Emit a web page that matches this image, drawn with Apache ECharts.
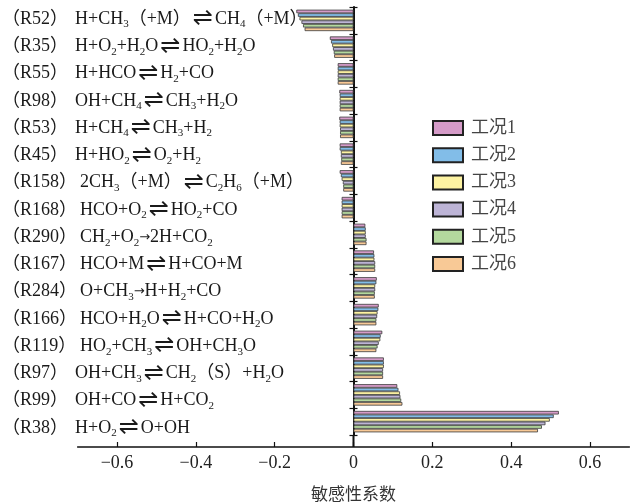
<!DOCTYPE html>
<html>
<head>
<meta charset="utf-8">
<script src="https://cdn.jsdelivr.net/npm/echarts@6/dist/echarts.min.js"></script>
<style>
  html, body { margin: 0; padding: 0; background: #fff; }
  #chart { width: 635px; height: 504px; }
</style>
</head>
<body>
<div id="chart"></div>
<script>
// Reaction identifiers, top to bottom
const reactionIds = ['R52', 'R35', 'R55', 'R98', 'R53', 'R45', 'R158', 'R168',
  'R290', 'R167', 'R284', 'R166', 'R119', 'R97', 'R99', 'R38'];

// Reaction equations: "_n" is a subscript, "<=>" reversible, "->" forward only
const equations = [
  'H+CH_3（+M）<=>CH_4（+M）',
  'H+O_2+H_2O<=>HO_2+H_2O',
  'H+HCO<=>H_2+CO',
  'OH+CH_4<=>CH_3+H_2O',
  'H+CH_4<=>CH_3+H_2',
  'H+HO_2<=>O_2+H_2',
  '2CH_3（+M）<=>C_2H_6（+M）',
  'HCO+O_2<=>HO_2+CO',
  'CH_2+O_2->2H+CO_2',
  'HCO+M<=>H+CO+M',
  'O+CH_3->H+H_2+CO',
  'HCO+H_2O<=>H+CO+H_2O',
  'HO_2+CH_3<=>OH+CH_3O',
  'OH+CH_3<=>CH_2（S）+H_2O',
  'OH+CO<=>H+CO_2',
  'H+O_2<=>O+OH'
];

const caseNames = ['工况1', '工况2', '工况3', '工况4', '工况5', '工况6'];

// Sensitivity coefficients per operating case, in reaction order
const case1 = [-0.145, -0.060, -0.040, -0.036, -0.036, -0.035, -0.035, -0.030, 0.030, 0.052, 0.059, 0.064, 0.073, 0.077, 0.111, 0.521];
const case2 = [-0.141, -0.057, -0.040, -0.035, -0.035, -0.035, -0.032, -0.030, 0.031, 0.053, 0.058, 0.063, 0.069, 0.077, 0.114, 0.508];
const case3 = [-0.137, -0.054, -0.040, -0.035, -0.035, -0.032, -0.030, -0.030, 0.031, 0.053, 0.055, 0.061, 0.068, 0.077, 0.118, 0.498];
const case4 = [-0.132, -0.052, -0.040, -0.035, -0.034, -0.032, -0.027, -0.030, 0.031, 0.055, 0.055, 0.060, 0.064, 0.075, 0.119, 0.487];
const case5 = [-0.128, -0.050, -0.040, -0.035, -0.034, -0.031, -0.026, -0.030, 0.033, 0.055, 0.054, 0.058, 0.061, 0.075, 0.121, 0.478];
const case6 = [-0.124, -0.049, -0.040, -0.035, -0.034, -0.032, -0.026, -0.030, 0.033, 0.055, 0.054, 0.058, 0.058, 0.075, 0.124, 0.468];

const xTicks = [-0.6, -0.4, -0.2, 0, 0.2, 0.4, 0.6];

const caseColors = ['#d59bc8', '#82bde8', '#fdf3a2', '#bdb4d6', '#b4d99e', '#f8c996'];

const SERIF = '"Liberation Serif", "Noto Sans CJK SC", serif';
const INK = '#1a1a1a';

// Turn an equation string into ECharts rich-text markup
function equationToRich(eq) {
  let out = '';
  let run = '';
  const flush = () => { if (run) { out += '{n|' + run + '}'; run = ''; } };
  for (let i = 0; i < eq.length; ) {
    if (eq.startsWith('<=>', i)) { flush(); out += '{a|⇌}'; i += 3; }
    else if (eq.startsWith('->', i)) { flush(); out += '{r|→}'; i += 2; }
    else if (eq[i] === '_') { flush(); out += '{s|' + eq[i + 1] + '}'; i += 2; }
    else { run += eq[i]; i += 1; }
  }
  flush();
  return out;
}

// "(Rnn)" prefix in a fixed-width cell, so equations line up per id length
function reactionLabel(id, index) {
  const cell = id.length < 4 ? 'p2' : 'p3';
  return '{' + cell + '|（' + id + '）}' + equationToRich(equations[index]);
}

const chart = echarts.init(document.getElementById('chart'), null, { renderer: 'canvas' });

// plot area for the bars, and a slightly taller band that carries the row labels
const GRID = { left: 77.6, right: 5.6, top: 7, bottom: 69 };
const LABEL_GRID = { left: 77.6, right: 5.6, top: 5.4, bottom: 62.4 };
const X_OFFSET = 12;

const caseData = [case1, case2, case3, case4, case5, case6];

const tickStyle = { color: '#111', width: 1.2 };
const hiddenValueAxis = {
  type: 'value', min: -0.7, max: 0.7,
  axisLine: { show: false }, axisTick: { show: false },
  axisLabel: { show: false }, splitLine: { show: false }
};

const option = {
  animation: false,
  backgroundColor: '#fff',
  grid: [
    Object.assign({ containLabel: false, outerBoundsMode: 'none' }, GRID),
    Object.assign({ containLabel: false, outerBoundsMode: 'none' }, LABEL_GRID)
  ],
  legend: {
    orient: 'vertical',
    left: 432,
    top: 119,
    padding: 0,
    itemWidth: 30,
    itemHeight: 14,
    itemGap: 9.2,
    icon: 'rect',
    itemStyle: { borderColor: '#222', borderWidth: 2 },
    textStyle: { fontSize: 18, fontFamily: SERIF, color: '#444', padding: [0, 0, 0, 3] },
    data: caseNames
  },
  xAxis: [
    {
      type: 'value',
      gridIndex: 0,
      min: -0.7,
      max: 0.7,
      offset: X_OFFSET,
      name: '敏感性系数',
      nameLocation: 'middle',
      nameGap: 38,
      nameTextStyle: { fontSize: 17, fontFamily: '"Noto Sans CJK SC", sans-serif', color: '#333' },
      splitLine: { show: false },
      axisLine: { show: true, lineStyle: { color: '#111', width: 1.5 } },
      axisTick: { show: true, inside: true, length: 5, customValues: xTicks, lineStyle: tickStyle },
      axisLabel: {
        customValues: xTicks,
        margin: 7,
        fontSize: 18,
        fontFamily: SERIF,
        color: '#222',
        formatter: v => (v === 0 ? '0' : String(v).replace('-', '−'))
      }
    },
    // companion scale so a second tick set can also sit on zero
    Object.assign({ gridIndex: 0, position: 'top' }, hiddenValueAxis),
    // scale for the label band
    Object.assign({ gridIndex: 1 }, hiddenValueAxis)
  ],
  yAxis: [
    {
      // zero line with right-facing ticks; the bars use this axis
      type: 'category',
      gridIndex: 0,
      inverse: true,
      position: 'right',
      data: reactionIds,
      axisLine: { show: true, onZero: true, onZeroAxisIndex: 0, lineStyle: { color: '#111', width: 2 } },
      axisTick: { show: true, length: 4, lineStyle: tickStyle },
      axisLabel: { show: false }
    },
    {
      // left-facing ticks on the same zero line
      type: 'category',
      gridIndex: 0,
      inverse: true,
      position: 'left',
      data: reactionIds,
      axisLine: { show: false, onZero: true, onZeroAxisIndex: 1 },
      axisTick: { show: true, inside: false, length: 4, lineStyle: tickStyle },
      axisLabel: { show: false }
    },
    {
      // reaction labels, anchored near the left edge
      type: 'category',
      gridIndex: 1,
      inverse: true,
      position: 'left',
      data: reactionIds,
      axisLine: { show: false, onZero: false },
      axisTick: { show: false },
      axisLabel: {
        align: 'left',
        margin: 75.6,
        interval: 0,
        formatter: (v, i) => reactionLabel(v, i),
        rich: {
          p2: { fontSize: 18, fontFamily: SERIF, color: INK, lineHeight: 22, width: 73 },
          p3: { fontSize: 18, fontFamily: SERIF, color: INK, lineHeight: 22, width: 78 },
          n: { fontSize: 18, fontFamily: SERIF, color: INK, lineHeight: 22 },
          s: { fontSize: 11, fontFamily: SERIF, color: INK, lineHeight: 14, verticalAlign: 'bottom' },
          a: { fontSize: 24, fontFamily: '"DejaVu Sans"', color: INK, lineHeight: 22, padding: [0, 2, 0, 2] },
          r: { fontSize: 13, fontFamily: '"DejaVu Sans"', color: INK, lineHeight: 22 }
        }
      }
    }
  ],
  series: caseNames.map((name, k) => ({
    name,
    type: 'bar',
    xAxisIndex: 0,
    yAxisIndex: 0,
    barGap: '0%',
    barCategoryGap: '20%',
    itemStyle: { color: caseColors[k], borderColor: '#3a3a3a', borderWidth: 0.8 },
    data: caseData[k]
  }))
};

chart.setOption(option);

// Carry the zero line down from the plot area to the offset value axis
const zeroX = chart.convertToPixel({ xAxisIndex: 0 }, 0);
const plotBottom = chart.getHeight() - GRID.bottom;
chart.setOption({
  graphic: [{
    type: 'line',
    shape: { x1: zeroX, y1: plotBottom, x2: zeroX, y2: plotBottom + X_OFFSET },
    style: { stroke: '#111', lineWidth: 2 },
    z: 10
  }]
});
</script>
</body>
</html>
